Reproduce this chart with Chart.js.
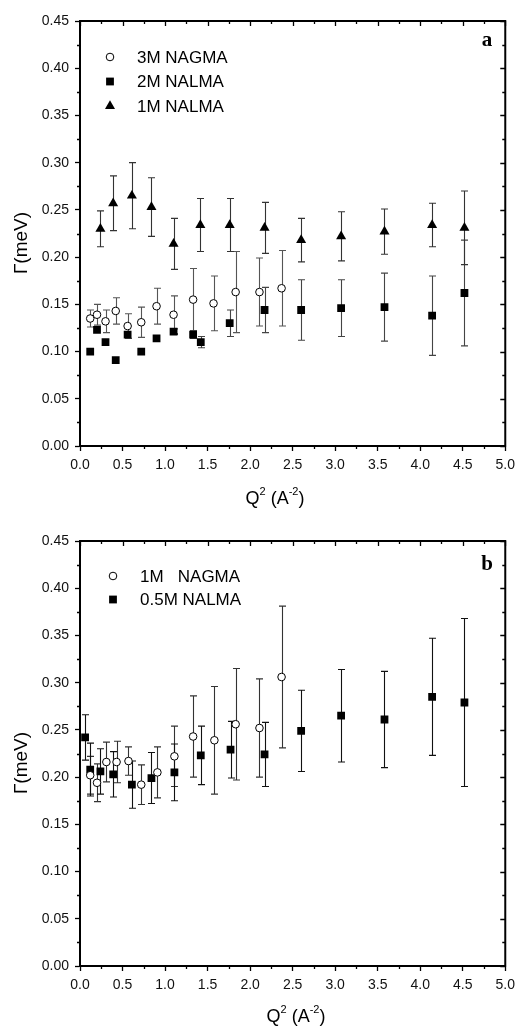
<!DOCTYPE html>
<html>
<head>
<meta charset="utf-8">
<script src="https://cdn.jsdelivr.net/npm/chart.js@4.4.1/dist/chart.umd.min.js"></script>
<style>
html,body{margin:0;padding:0;background:#fff;}
#wrap{position:relative;width:521px;height:1027px;overflow:hidden;}
canvas{position:absolute;left:0;}
</style>
</head>
<body>
<div id="wrap">
<canvas id="ca" width="521" height="515" style="top:0"></canvas>
<canvas id="cb" width="521" height="512" style="top:515px"></canvas>
</div>
<script>
// ---- Panel a data ----
const nagma3Q = [0.12,0.20,0.30,0.42,0.56,0.72,0.90,1.10,1.33,1.57,1.83,2.11,2.37];
const nagma3G = [0.135,0.139,0.132,0.143,0.127,0.131,0.148,0.139,0.155,0.151,0.163,0.163,0.167];
const nagma3E = [0.009,0.011,0.012,0.014,0.013,0.016,0.019,0.020,0.033,0.029,0.043,0.036,0.040];

const nalma2Q = [0.12,0.20,0.30,0.42,0.56,0.72,0.90,1.10,1.33,1.42,1.76,2.17,2.60,3.07,3.58,4.14,4.52];
const nalma2G = [0.100,0.123,0.110,0.091,0.118,0.100,0.114,0.121,0.118,0.110,0.130,0.144,0.144,0.146,0.147,0.138,0.162];
const nalma2E = [0,0,0,0,0,0,0,0.003,0.004,0.006,0.014,0.024,0.032,0.030,0.036,0.042,0.056];

const nalma1Q = [0.24,0.39,0.61,0.84,1.10,1.415,1.76,2.17,2.60,3.07,3.58,4.14,4.52];
const nalma1G = [0.230,0.257,0.265,0.253,0.214,0.234,0.234,0.231,0.218,0.222,0.227,0.234,0.231];
const nalma1E = [0.019,0.029,0.035,0.031,0.027,0.028,0.028,0.027,0.023,0.026,0.024,0.023,0.039];

// ---- Panel b data ----
const nagma1Q = [0.12,0.20,0.31,0.43,0.57,0.72,0.91,1.11,1.33,1.58,1.83,2.11,2.37];
const nagma1G = [0.202,0.194,0.216,0.216,0.217,0.192,0.205,0.222,0.243,0.239,0.256,0.252,0.306];
const nagma1E = [0.020,0.020,0.021,0.022,0.015,0.021,0.027,0.032,0.043,0.057,0.059,0.052,0.075];

const nalma05Q = [0.06,0.12,0.24,0.39,0.61,0.84,1.11,1.42,1.77,2.17,2.60,3.07,3.58,4.14,4.52];
const nalma05G = [0.242,0.208,0.206,0.203,0.192,0.199,0.205,0.223,0.229,0.224,0.249,0.265,0.261,0.285,0.279];
const nalma05E = [0.024,0.028,0.024,0.024,0.025,0.027,0.030,0.031,0.030,0.034,0.043,0.049,0.051,0.062,0.089];

// ---- Axis ticks ----
const xMin = 0, xMax = 5, xStep = 0.5, xMinor = 0.25;
const yMin = 0, yMax = 0.45, yStep = 0.05, yMinor = 0.025;

const FONT = "'Liberation Sans', Arial, sans-serif";

function pts(q, g){ return q.map((v,i)=>({x:v, y:g[i]})); }

function drawMarker(ctx, style, x, y){
  ctx.save();
  ctx.lineWidth = 1;
  ctx.strokeStyle = '#000';
  ctx.beginPath();
  if (style === 'circle'){
    ctx.fillStyle = '#fff';
    ctx.arc(x, y, 3.8, 0, Math.PI*2);
    ctx.fill(); ctx.stroke();
  } else if (style === 'rect'){
    ctx.fillStyle = '#000';
    ctx.rect(x-3.9, y-3.9, 7.8, 7.8);
    ctx.fill();
  } else {
    ctx.fillStyle = '#000';
    const r = 5.8;
    ctx.moveTo(x, y - r);
    ctx.lineTo(x + r*0.866, y + r*0.5);
    ctx.lineTo(x - r*0.866, y + r*0.5);
    ctx.closePath();
    ctx.fill();
  }
  ctx.restore();
}

function drawSupText(ctx, parts, cx, cy){
  let w = 0;
  parts.forEach(p=>{ ctx.font = p[1] ? '11px '+FONT : '18px '+FONT; w += ctx.measureText(p[0]).width; });
  let x = cx - w/2;
  ctx.textBaseline = 'middle';
  ctx.textAlign = 'left';
  parts.forEach(p=>{
    ctx.font = p[1] ? '11px '+FONT : '18px '+FONT;
    ctx.fillText(p[0], x, p[1] ? cy - 7 : cy);
    x += ctx.measureText(p[0]).width;
  });
}

const framePlugin = {
  id: 'frame',
  beforeDatasetsDraw(chart, args, opts){
    const ctx = chart.ctx, xs = chart.scales.x, ys = chart.scales.y;
    ctx.save();
    ctx.lineWidth = 1.1;
    chart.data.datasets.forEach((ds, i)=>{
      const err = opts.errors[i];
      ctx.strokeStyle = opts.errColors[i];
      ds.data.forEach((p, j)=>{
        const e = err[j];
        if (!e) return;
        const px = Math.round(xs.getPixelForValue(p.x)) + 0.5;
        const yt = ys.getPixelForValue(p.y + e);
        const yb = ys.getPixelForValue(p.y - e);
        ctx.beginPath();
        ctx.moveTo(px, yt); ctx.lineTo(px, yb);
        ctx.moveTo(px-3.5, yt); ctx.lineTo(px+3.5, yt);
        ctx.moveTo(px-3.5, yb); ctx.lineTo(px+3.5, yb);
        ctx.stroke();
      });
    });
    ctx.restore();
  },
  afterDraw(chart, args, opts){
    const ctx = chart.ctx, a = chart.chartArea, xs = chart.scales.x, ys = chart.scales.y;
    ctx.save();
    ctx.strokeStyle = '#000';
    ctx.lineWidth = 2;
    ctx.strokeRect(a.left, a.top, a.right - a.left, a.bottom - a.top);
    ctx.lineWidth = 1.3;
    ctx.beginPath();
    for (let v = xMin; v <= xMax + 1e-9; v += xMinor){
      const px = Math.round(xs.getPixelForValue(v)) + 0.5;
      const major = Math.abs(v/xStep - Math.round(v/xStep)) < 1e-6;
      const L = major ? 5 : 3;
      ctx.moveTo(px, a.top); ctx.lineTo(px, a.top + L);
      if (!major){ ctx.moveTo(px, a.bottom); ctx.lineTo(px, a.bottom + 3); }
    }
    for (let v = yMin; v <= yMax + 1e-9; v += yMinor){
      const py = Math.round(ys.getPixelForValue(v)) + 0.5;
      const major = Math.abs(v/yStep - Math.round(v/yStep)) < 1e-6;
      const L = major ? 5 : 3;
      ctx.moveTo(a.right, py); ctx.lineTo(a.right - L, py);
      if (!major){ ctx.moveTo(a.left, py); ctx.lineTo(a.left - 3, py); }
    }
    ctx.stroke();
    ctx.fillStyle = '#000';
    opts.legend.forEach((it, i)=>{
      const y = opts.legendY + i*opts.legendDy;
      drawMarker(ctx, it.style, opts.legendX, y);
      ctx.font = '17px ' + FONT;
      ctx.textAlign = 'left';
      ctx.textBaseline = 'middle';
      ctx.fillText(it.label, opts.legendX + 27, y + 1);
    });
    ctx.font = 'bold 21px "Liberation Serif", "Times New Roman", serif';
    ctx.textAlign = 'center';
    ctx.textBaseline = 'middle';
    ctx.fillText(opts.letter, opts.letterX, opts.letterY);
    drawSupText(ctx, [['Q',0],['2',1],[' (A',0],['-2',1],[')',0]], opts.xTitleX, opts.xTitleY);
    ctx.save();
    ctx.translate(22, opts.yTitleY);
    ctx.rotate(-Math.PI/2);
    ctx.font = '19px ' + FONT;
    ctx.textAlign = 'center';
    ctx.textBaseline = 'middle';
    ctx.fillText('\u0393(meV)', 0, 0);
    ctx.restore();
    ctx.restore();
  }
};

function makeChart(id, datasets, errors, errColors, canvasH, topPad, bottomEdge, extra){
  const axisH = canvasH - bottomEdge;
  return new Chart(document.getElementById(id), {
    type: 'scatter',
    data: { datasets },
    options: {
      responsive: false,
      animation: false,
      devicePixelRatio: 1,
      layout: { padding: { top: topPad, right: 11, left: 0, bottom: 0 } },
      plugins: {
        legend: { display: false },
        tooltip: { enabled: false },
        frame: Object.assign({ errors, errColors }, extra)
      },
      scales: {
        x: {
          type: 'linear', min: xMin, max: xMax,
          afterFit(s){ s.height = axisH; },
          ticks: { stepSize: xStep, color: '#111', font: { family: FONT, size: 14 }, padding: 6,
                   maxRotation: 0, autoSkip: false,
                   callback: v => Number(v).toFixed(1) },
          grid: { drawOnChartArea: false, drawTicks: true, tickLength: 5, tickColor: '#000', tickWidth: 1.3 },
          border: { display: true, color: '#000', width: 2 }
        },
        y: {
          type: 'linear', min: yMin, max: yMax,
          afterFit(s){ s.width = 80; },
          ticks: { stepSize: yStep, color: '#111', font: { family: FONT, size: 14 }, padding: 6,
                   autoSkip: false,
                   callback: v => Number(v).toFixed(2) },
          grid: { drawOnChartArea: false, drawTicks: true, tickLength: 5, tickColor: '#000', tickWidth: 1.3 },
          border: { display: true, color: '#000', width: 2 }
        }
      }
    },
    plugins: [framePlugin]
  });
}

const circleDs = (label, q, g) => ({ label, data: pts(q,g), pointStyle: 'circle', pointRadius: 3.8,
  backgroundColor: '#fff', borderColor: '#000', borderWidth: 1, showLine: false });
const rectDs = (label, q, g) => ({ label, data: pts(q,g), pointStyle: 'rect', pointRadius: 5.5,
  backgroundColor: '#000', borderColor: '#000', borderWidth: 0, showLine: false });
const triDs = (label, q, g) => ({ label, data: pts(q,g), pointStyle: 'triangle', pointRadius: 5.8,
  backgroundColor: '#000', borderColor: '#000', borderWidth: 0, showLine: false });

makeChart('ca',
  [circleDs('3M NAGMA', nagma3Q, nagma3G), rectDs('2M NALMA', nalma2Q, nalma2G), triDs('1M NALMA', nalma1Q, nalma1G)],
  [nagma3E, nalma2E, nalma1E], ['#555', '#444', '#333'],
  515, 21, 446,
  { legend: [{style:'circle',label:'3M NAGMA'},{style:'rect',label:'2M NALMA'},{style:'triangle',label:'1M NALMA'}],
    legendX: 110, legendY: 57, legendDy: 24.5,
    letter: 'a', letterX: 487, letterY: 41,
    xTitleX: 275, xTitleY: 499, yTitleY: 243 });

makeChart('cb',
  [circleDs('1M   NAGMA', nagma1Q, nagma1G), rectDs('0.5M NALMA', nalma05Q, nalma05G)],
  [nagma1E, nalma05E], ['#333', '#111'],
  512, 26, 451,
  { legend: [{style:'circle',label:'1M   NAGMA'},{style:'rect',label:'0.5M NALMA'}],
    legendX: 113, legendY: 61, legendDy: 23.5,
    letter: 'b', letterX: 487, letterY: 50,
    xTitleX: 296, xTitleY: 502, yTitleY: 248 });
</script>
</body>
</html>
